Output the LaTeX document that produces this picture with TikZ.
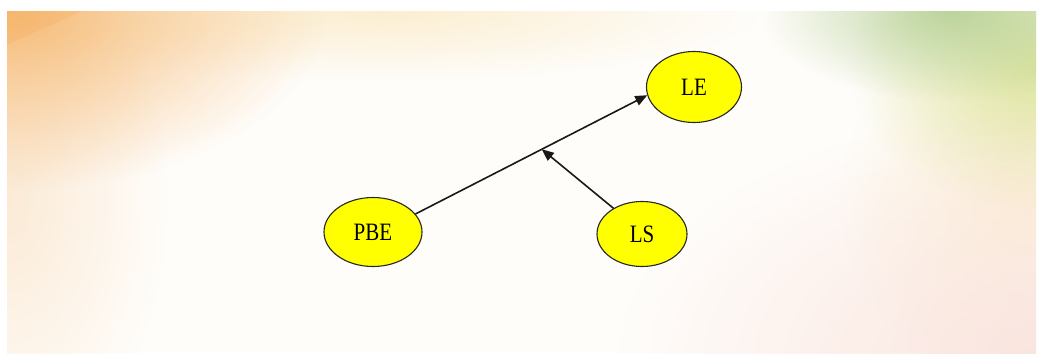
\documentclass[tikz,border=0pt]{standalone}
\usepackage{fontspec}
\setmainfont{Liberation Serif}
\usetikzlibrary{shapes.geometric,arrows.meta,calc,fadings}

% soft radial glow: opaque centre, clear edge
\tikzfading[name=softglow, inner color=transparent!0, outer color=transparent!100]

\definecolor{paper}{RGB}{255,253,250}
\definecolor{peach}{RGB}{246,186,116}
\definecolor{peachlight}{RGB}{249,222,190}
\definecolor{cream}{RGB}{250,232,190}
\definecolor{sage}{RGB}{178,206,145}
\definecolor{lime}{RGB}{214,224,140}
\definecolor{blush}{RGB}{250,228,222}
\definecolor{nodefill}{RGB}{255,255,0}

\newcommand\lbl[1]{\scalebox{0.84}[1]{\fontsize{25}{25}\selectfont #1}}

\begin{document}
\begin{tikzpicture}[x=1pt,y=-1pt,
  state/.style={ellipse, draw=black!85, line width=1.1pt, fill=nodefill,
    inner sep=0pt, text=black},
  link/.style={line width=1.6pt, black!90,
    -{Triangle[length=12pt,width=10pt]}},
]
\useasboundingbox (0,0) rectangle (1041,356);

% backdrop
\begin{scope}
  \clip (7,11) rectangle (1036,353);
  \fill[paper] (7,11) rectangle (1036,353);
  \fill[peachlight, path fading=softglow, opacity=0.6] (7,200) ellipse (160 and 260);
  \fill[cream, path fading=softglow, opacity=0.7] (380,11) ellipse (380 and 70);
  \fill[peach, path fading=softglow] (7,11) ellipse (320 and 180);
  \fill[peach!80!orange, opacity=0.3] (7,11) -- (82,11) -- (7,45) -- cycle;
  \fill[cream, path fading=softglow, opacity=0.6] (1020,200) ellipse (180 and 180);
  \fill[lime, path fading=softglow, opacity=0.8] (1040,70) ellipse (190 and 140);
  \fill[sage, path fading=softglow, opacity=0.85] (950,11) ellipse (190 and 90);
  \fill[blush, path fading=softglow] (1040,356) ellipse (420 and 240);
\end{scope}

% nodes
\node[state, minimum width=98pt, minimum height=69pt] (PBE) at (373,232) {\lbl{PBE}};
\node[state, minimum width=90pt, minimum height=65pt] (LS)  at (642,234) {\lbl{LS}};
\node[state, minimum width=95pt, minimum height=71pt] (LE)  at (694,87)  {\lbl{LE}};

% connectors
\coordinate (join) at ($(PBE.23)!0.545!(LE.190)$);
\draw[link] (PBE.23) -- (LE.190);
\draw[link] (LS.138) -- (join);
\end{tikzpicture}
\end{document}
